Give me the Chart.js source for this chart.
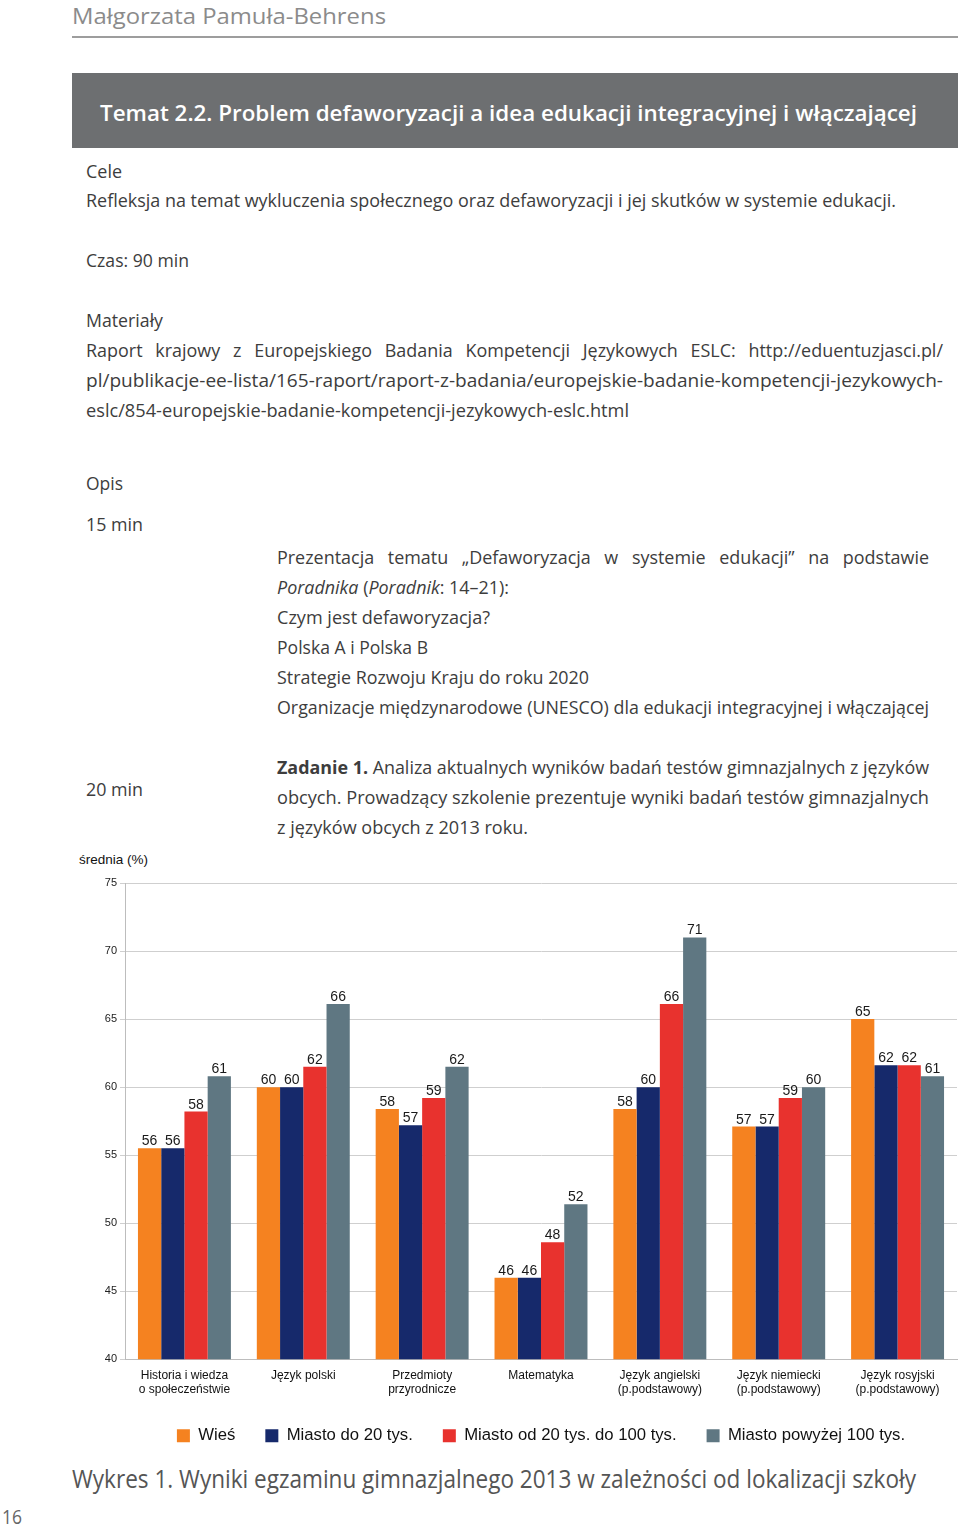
<!DOCTYPE html>
<html lang="pl">
<head>
<meta charset="utf-8">
<title>Wykres 1. Wyniki egzaminu gimnazjalnego 2013</title>
<script src="https://cdn.jsdelivr.net/npm/chart.js@4.4.1/dist/chart.umd.min.js"></script>
<style>
  html, body { margin: 0; padding: 0; background: #fff; }
  body {
    width: 960px; height: 1525px; position: relative; overflow: hidden;
    font-family: "Open Sans", "Noto Sans", sans-serif; color: #3d3d3d;
  }
  .ln {
    position: absolute; white-space: nowrap; display: inline-block;
    line-height: 1.3; font-size: 18px; transform-origin: 0 50%;
  }
  .just { text-align: justify; text-align-last: justify; }
  #rule { position: absolute; left: 72px; top: 36px; width: 886px; height: 2px; background: #9d9d9d; }
  #titlebox { position: absolute; left: 72px; top: 73px; width: 886px; height: 75px; background: #6d6f71; }
  #wrap { position: absolute; left: 72px; top: 870px; width: 888px; height: 584px; }
</style>
</head>
<body>
<div class="ln" data-x="72" data-y="15" data-w="314" style="font-size:22px;color:#8b8b8b">Małgorzata Pamuła-Behrens</div>
<div id="rule"></div>
<div id="titlebox"></div>
<div class="ln" data-x="100" data-y="112" data-w="817" style="font-size:22px;font-weight:600;color:#fff">Temat 2.2. Problem defaworyzacji a idea edukacji integracyjnej i włączającej</div>

<div class="ln body" data-x="86" data-y="172" data-w="36">Cele</div>
<div class="ln body" data-x="86" data-y="201" data-w="810">Refleksja na temat wykluczenia społecznego oraz defaworyzacji i jej skutków w systemie edukacji.</div>
<div class="ln body" data-x="86" data-y="261" data-w="103">Czas: 90 min</div>
<div class="ln body" data-x="86" data-y="321" data-w="77">Materiały</div>
<div class="ln just" data-x="86" data-y="351" data-w="857">Raport krajowy z Europejskiego Badania Kompetencji Językowych ESLC: http://eduentuzjasci.pl/</div>
<div class="ln body" data-x="86" data-y="381" data-w="857">pl/publikacje-ee-lista/165-raport/raport-z-badania/europejskie-badanie-kompetencji-jezykowych-</div>
<div class="ln body" data-x="86" data-y="411" data-w="543">eslc/854-europejskie-badanie-kompetencji-jezykowych-eslc.html</div>

<div class="ln body" data-x="86" data-y="484" data-w="37">Opis</div>
<div class="ln body" data-x="86" data-y="525" data-w="57">15 min</div>
<div class="ln just" data-x="277" data-y="558" data-w="652">Prezentacja tematu „Defaworyzacja w systemie edukacji” na podstawie</div>
<div class="ln body" data-x="277" data-y="588" data-w="232"><i>Poradnika</i> (<i>Poradnik</i>: 14–21):</div>
<div class="ln body" data-x="277" data-y="618" data-w="213">Czym jest defaworyzacja?</div>
<div class="ln body" data-x="277" data-y="648" data-w="151">Polska A i Polska B</div>
<div class="ln body" data-x="277" data-y="678" data-w="312">Strategie Rozwoju Kraju do roku 2020</div>
<div class="ln body" data-x="277" data-y="708" data-w="652">Organizacje międzynarodowe (UNESCO) dla edukacji integracyjnej i włączającej</div>

<div class="ln body" data-x="277" data-y="768" data-w="652"><b>Zadanie 1.</b> Analiza aktualnych wyników badań testów gimnazjalnych z języków</div>
<div class="ln body" data-x="86" data-y="790" data-w="57">20 min</div>
<div class="ln body" data-x="277" data-y="798" data-w="652">obcych. Prowadzący szkolenie prezentuje wyniki badań testów gimnazjalnych</div>
<div class="ln body" data-x="277" data-y="828" data-w="251">z języków obcych z 2013 roku.</div>

<div class="ln" data-x="79" data-y="860" data-w="69" style="font-family:'Liberation Sans',Arial,sans-serif;font-size:13px;color:#111">średnia (%)</div>

<div id="wrap"><canvas id="chart"></canvas></div>

<div class="ln" data-x="72" data-y="1479" data-w="844" style="font-size:26px;color:#555">Wykres 1. Wyniki egzaminu gimnazjalnego 2013 w zależności od lokalizacji szkoły</div>
<div class="ln" data-x="2" data-y="1517" data-w="20" style="font-size:20px;color:#666">16</div>

<script>
// categories (x axis labels, split into lines)
const categories = [
  ["Historia i wiedza", "o społeczeństwie"],
  ["Język polski"],
  ["Przedmioty", "przyrodnicze"],
  ["Matematyka"],
  ["Język angielski", "(p.podstawowy)"],
  ["Język niemiecki", "(p.podstawowy)"],
  ["Język rosyjski", "(p.podstawowy)"]
];
const seriesNames = ["Wieś", "Miasto do 20 tys.", "Miasto od 20 tys. do 100 tys.", "Miasto powyżej 100 tys."];
const seriesColors = ["#f58220", "#16296b", "#e8322e", "#5f7782"];

// bar heights
const wies = [55.5, 60.0, 58.4, 46.0, 58.4, 57.1, 65.0];
const miastoDo20 = [55.5, 60.0, 57.2, 46.0, 60.0, 57.1, 61.6];
const miasto20do100 = [58.2, 61.5, 59.2, 48.6, 66.1, 59.2, 61.6];
const miastoPow100 = [60.8, 66.1, 61.5, 51.4, 71.0, 60.0, 60.8];

// numbers printed above the bars
const wiesLabels = [56, 60, 58, 46, 58, 57, 65];
const miastoDo20Labels = [56, 60, 57, 46, 60, 57, 62];
const miasto20do100Labels = [58, 62, 59, 48, 66, 59, 62];
const miastoPow100Labels = [61, 66, 62, 52, 71, 60, 61];

const yMin = 40, yMax = 75, yStep = 5;

// place the page text and squeeze each line to the width it has in print
function placeLines() {
  const lines = document.querySelectorAll(".ln");
  const ratios = [];
  lines.forEach((el) => {
    el.style.left = el.dataset.x + "px";
    el.style.top = el.dataset.y + "px";
    if (el.classList.contains("just")) return;
    const w = el.getBoundingClientRect().width;
    const s = el.dataset.w / w;
    if (el.classList.contains("body")) ratios.push(s);
    el.style.transform = `translateY(-50%) scaleX(${s})`;
  });
  const avg = ratios.reduce((a, b) => a + b, 0) / ratios.length;
  document.querySelectorAll(".just").forEach((el) => {
    el.style.width = el.dataset.w / avg + "px";
    el.style.transform = `translateY(-50%) scaleX(${avg})`;
  });
}
placeLines();

const barLabels = {
  id: "barLabels",
  afterDatasetsDraw(chart) {
    const ctx = chart.ctx;
    ctx.save();
    ctx.font = "14px 'Liberation Sans', Arial, sans-serif";
    ctx.fillStyle = "#1a1a1a";
    ctx.textAlign = "center";
    ctx.textBaseline = "alphabetic";
    chart.data.datasets.forEach((ds, i) => {
      chart.getDatasetMeta(i).data.forEach((bar, j) => {
        ctx.fillText(String(ds.printed[j]), bar.x, bar.y - 3);
      });
    });
    ctx.restore();
  }
};

const values = [wies, miastoDo20, miasto20do100, miastoPow100];
const printed = [wiesLabels, miastoDo20Labels, miasto20do100Labels, miastoPow100Labels];

new Chart(document.getElementById("chart"), {
  type: "bar",
  data: {
    labels: categories,
    datasets: seriesNames.map((name, i) => ({
      label: name,
      data: values[i],
      printed: printed[i],
      backgroundColor: seriesColors[i],
      borderWidth: 0,
      categoryPercentage: 0.782,
      barPercentage: 1.0
    }))
  },
  options: {
    responsive: true,
    maintainAspectRatio: false,
    animation: false,
    layout: { padding: { top: 13, right: 3, left: 0, bottom: 0 } },
    plugins: {
      tooltip: { enabled: false },
      legend: {
        position: "bottom",
        fullSize: false,
        labels: {
          boxWidth: 13,
          boxHeight: 13,
          padding: 30,
          color: "#111",
          font: { size: 16.7, family: "'Liberation Sans', Arial, sans-serif" }
        }
      }
    },
    scales: {
      x: {
        grid: { display: false, drawTicks: false },
        border: { display: true, color: "#bdbdbd" },
        ticks: {
          color: "#111",
          font: { size: 12, family: "'Liberation Sans', Arial, sans-serif" },
          padding: 9,
          maxRotation: 0,
          autoSkip: false
        },
        afterFit: (scale) => { scale.height = 38; }
      },
      y: {
        min: yMin,
        max: yMax,
        ticks: {
          stepSize: yStep,
          color: "#222",
          padding: 3,
          font: { size: 11, family: "'Liberation Sans', Arial, sans-serif" }
        },
        grid: { color: "#cfcfcf", drawTicks: true, tickLength: 5, tickColor: "#cfcfcf" },
        border: { display: true, color: "#bdbdbd" },
        afterFit: (scale) => { scale.width = 53; }
      }
    }
  },
  plugins: [barLabels]
});
</script>
</body>
</html>
